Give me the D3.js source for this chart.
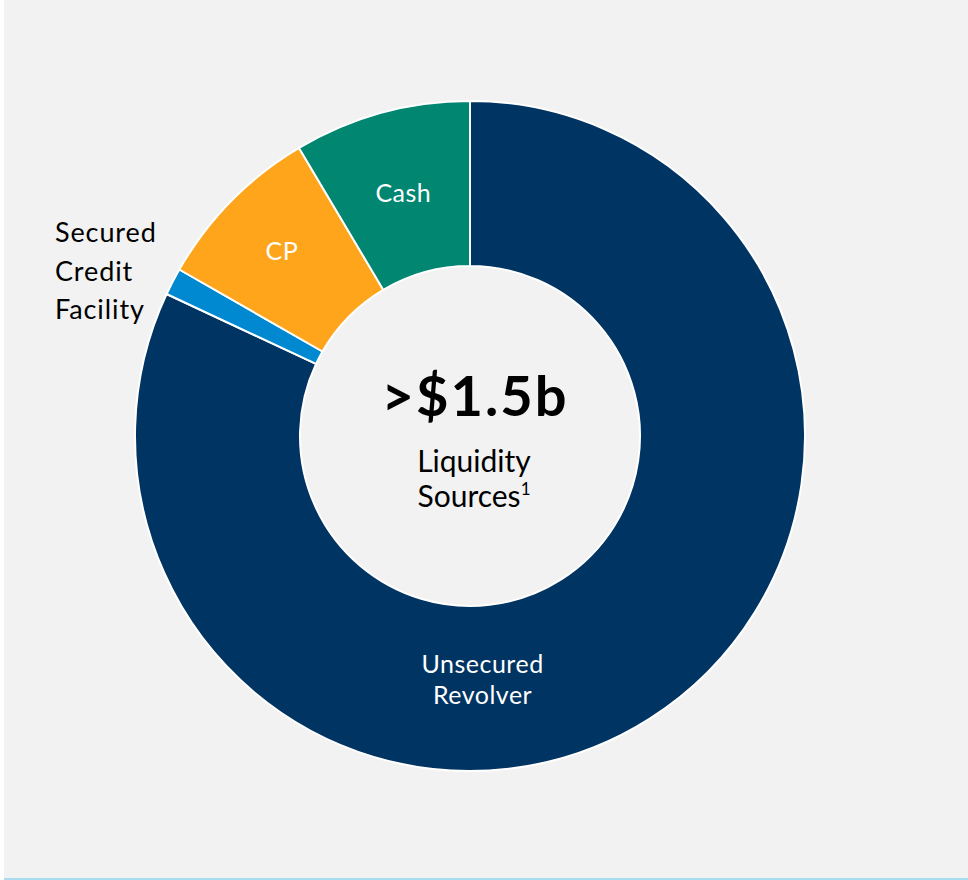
<!DOCTYPE html>
<html>
<head>
<meta charset="utf-8">
<script src="https://cdn.jsdelivr.net/npm/d3@7"></script>
<style>
  body { margin: 0; background: #ffffff; }
  svg { display: block; }
  text { font-family: Futura, "Century Gothic", Lato, "Noto Sans", sans-serif; }
</style>
</head>
<body>
<div id="chart"></div>
<script>
// liquidity sources, $m
var categories = ["Unsecured Revolver", "Secured Credit Facility", "CP", "Cash"];
var values = [1250, 20, 125, 130];
var colors = ["#003462", "#0089d0", "#ffa51b", "#008671"];
var labelLines = [["Unsecured", "Revolver"], ["Secured", "Credit", "Facility"], ["CP"], ["Cash"]];
var centerTitle = ">$1.5b";
var centerLines = ["Liquidity", "Sources"];

function drawChart(w, h) {
    var cx = 470, cy = 436;
    var outerR = 335, innerR = 170;

    var svg = d3.select("#chart").append("svg")
        .attr("width", w)
        .attr("height", h);

    svg.append("rect")
        .attr("x", 4).attr("y", 0)
        .attr("width", w - 4).attr("height", h - 2)
        .attr("fill", "#f2f2f2");
    svg.append("line")
        .attr("x1", 4).attr("x2", w)
        .attr("y1", h - 1).attr("y2", h - 1)
        .attr("stroke", "#a8dcee")
        .attr("stroke-width", 2);

    var pts = categories.map(function(c, i) {
        return { name: c, value: values[i], color: colors[i], lines: labelLines[i] };
    });

    var pie = d3.pie().sort(null).value(function(d) { return d.value; });
    var arc = d3.arc().innerRadius(innerR).outerRadius(outerR);
    var arcs = pie(pts);

    var g = svg.append("g").attr("transform", "translate(" + cx + "," + cy + ")");

    g.selectAll("path.slice")
        .data(arcs)
        .enter().append("path")
        .attr("class", "slice")
        .attr("d", arc)
        .attr("fill", function(d) { return d.data.color; })
        .attr("stroke", "#ffffff")
        .attr("stroke-width", 2)
        .attr("stroke-linejoin", "round");

    var lineH = 31;
    arcs.forEach(function(d, i) {
        var lines = d.data.lines;
        if (d.data.name == "Secured Credit Facility") {
            // outside label to the left of the thin slice
            var mid = (d.startAngle + d.endAngle) / 2;
            var oy = -outerR * Math.cos(mid);
            var t = g.append("text")
                .attr("x", -outerR - 80)
                .attr("y", oy - 1 - 38.5)
                .attr("fill", "#000000")
                .style("font-size", "27px")
                .style("letter-spacing", "0.9px");
            lines.forEach(function(s, k) {
                t.append("tspan")
                    .attr("x", -outerR - 80)
                    .attr("dy", k == 0 ? 0 : 38.5)
                    .text(s);
            });
            return;
        }
        var ang, r;
        if (d.data.name == "Unsecured Revolver") {
            ang = d.startAngle + 0.6 * (d.endAngle - d.startAngle);
            r = 244;
        } else if (d.data.name == "Cash") {
            ang = (d.startAngle + d.endAngle) / 2;
            r = 252;
        } else {
            ang = (d.startAngle + d.endAngle) / 2;
            r = 264;
        }
        var x = r * Math.sin(ang);
        var y = -r * Math.cos(ang);
        var t = g.append("text")
            .attr("text-anchor", "middle")
            .attr("fill", "#ffffff")
            .style("font-size", "25px")
            .style("letter-spacing", "0.5px")
            .attr("x", x)
            .attr("y", y + 9 - (lines.length - 1) * lineH / 2);
        lines.forEach(function(s, k) {
            t.append("tspan")
                .attr("x", x)
                .attr("dy", k == 0 ? 0 : lineH)
                .text(s);
        });
    });

    // centre text
    g.append("text")
        .attr("text-anchor", "middle")
        .attr("x", 5).attr("y", -20)
        .attr("fill", "#000000")
        .style("font-size", "56px")
        .style("font-weight", "bold")
        .style("letter-spacing", "2px")
        .text(centerTitle);
    g.append("text")
        .attr("text-anchor", "middle")
        .attr("x", 4).attr("y", 36)
        .attr("fill", "#000000")
        .style("font-size", "30px")
        .text(centerLines[0]);
    var s = g.append("text")
        .attr("text-anchor", "middle")
        .attr("x", 4).attr("y", 71)
        .attr("fill", "#000000")
        .style("font-size", "30px");
    s.append("tspan").text(centerLines[1]);
    s.append("tspan")
        .attr("dy", -12)
        .style("font-size", "17px")
        .text("1");
}

drawChart(968, 880);
</script>
</body>
</html>
